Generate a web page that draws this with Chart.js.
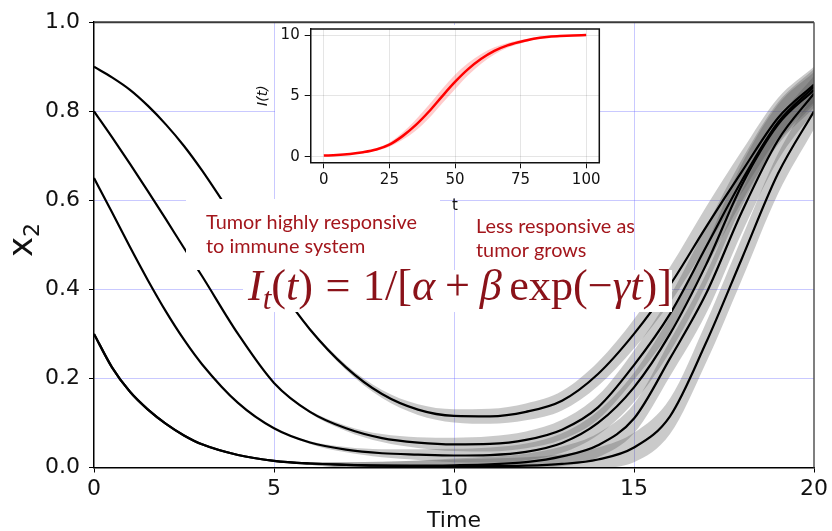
<!DOCTYPE html>
<html>
<head>
<meta charset="utf-8">
<script src="https://cdn.jsdelivr.net/npm/chart.js@4.4.0/dist/chart.umd.min.js"></script>
<style>
  body { margin: 0; background: #fff; }
  #wrap { position: relative; width: 832px; height: 531px; }
  #main { position: absolute; left: 0; top: 0; }
  #insetBox { position: absolute; left: 240px; top: 15px; width: 380px; height: 200px; }
</style>
</head>
<body>
<div id="wrap">
  <canvas id="main" width="832" height="531"></canvas>
  <div id="insetBox"><canvas id="inset" width="380" height="200"></canvas></div>
</div>
<script>
// main panel: mean trajectories of x2 over time
const time   = [0,0.5,1,1.5,2,2.5,3,4,5,6,7,8,9,10,11,12,13,14,15,16,17,18,19,20];
const curveA = [0.90,0.876,0.848,0.812,0.77,0.722,0.667,0.545,0.42,0.31,0.225,0.165,0.13,0.116,0.115,0.125,0.15,0.21,0.30,0.41,0.54,0.665,0.785,0.86];
const curveB = [0.80,0.742,0.682,0.62,0.557,0.493,0.43,0.30,0.19,0.125,0.088,0.066,0.056,0.052,0.053,0.062,0.085,0.135,0.23,0.345,0.495,0.645,0.775,0.855];
const curveC = [0.65,0.573,0.495,0.42,0.35,0.287,0.232,0.145,0.088,0.056,0.04,0.032,0.029,0.027,0.028,0.035,0.055,0.10,0.18,0.30,0.455,0.635,0.77,0.848];
const curveD = [0.30,0.225,0.17,0.13,0.098,0.072,0.052,0.028,0.015,0.009,0.006,0.004,0.003,0.003,0.003,0.004,0.008,0.018,0.045,0.115,0.28,0.47,0.66,0.80];
const curveE = [0.30,0.225,0.17,0.13,0.098,0.072,0.052,0.028,0.015,0.009,0.006,0.004,0.004,0.005,0.007,0.012,0.025,0.05,0.11,0.245,0.39,0.575,0.735,0.84];
const spread = [0,0,0,0,0,0,0,0,0,0.003,0.006,0.009,0.012,0.015,0.017,0.019,0.022,0.027,0.033,0.04,0.045,0.047,0.045,0.04];
const xTicks = [0,5,10,15,20];
const yTicks = [0,0.2,0.4,0.6,0.8,1.0];

// inset: immune response I(t)
const tInset = [0,5,10,15,20,25,30,35,40,45,50,55,60,65,70,75,80,85,90,95,100];
const iMean = [0.1,0.15,0.24,0.38,0.6,1.0,1.7,2.6,3.7,4.95,6.15,7.2,8.05,8.7,9.15,9.45,9.7,9.85,9.92,9.97,10.0];
const iSpread = [0,0,0.02,0.05,0.1,0.18,0.3,0.45,0.55,0.6,0.6,0.5,0.4,0.3,0.2,0.14,0.09,0.05,0.03,0.01,0];
const insetXTicks = [0,25,50,75,100];
const insetYTicks = [0,5,10];

const gridBlue = 'rgba(90,90,255,0.33)';
const textRed = '#a3161c';
const formulaRed = '#8a1219';

const curves = [curveA, curveB, curveC, curveD, curveE];
const pts = (xs, ys) => xs.map((x, i) => ({ x: x, y: ys[i] }));

const datasets = [];
curves.forEach(c => {
  datasets.push({ data: pts(time, c), borderColor: '#000', borderWidth: 2.2, fill: false });
});
curves.forEach(c => {
  datasets.push({ data: pts(time, c.map((v, i) => v + spread[i])), borderWidth: 0, borderColor: 'rgba(0,0,0,0)',
    backgroundColor: 'rgba(80,80,80,0.3)', fill: '+1' });
  datasets.push({ data: pts(time, c.map((v, i) => Math.max(0, v - spread[i]))), borderWidth: 0, borderColor: 'rgba(0,0,0,0)',
    fill: false });
});

function fitFont(ctx, text, family, target) {
  ctx.font = '100px ' + family;
  return 100 * target / ctx.measureText(text).width;
}

const decor = {
  id: 'decor',
  afterDatasetsDraw(chart) {
    const { ctx, chartArea: a } = chart;
    ctx.save();
    // top / right spines
    ctx.strokeStyle = '#3a3a3a';
    ctx.lineWidth = 2;
    ctx.beginPath();
    ctx.moveTo(a.left, a.top);
    ctx.lineTo(a.right, a.top);
    ctx.stroke();
    ctx.strokeStyle = '#555';
    ctx.lineWidth = 1.5;
    ctx.beginPath();
    ctx.moveTo(a.right, a.top);
    ctx.lineTo(a.right, a.bottom);
    ctx.stroke();

    // white backgrounds of pasted inset and text boxes
    ctx.fillStyle = '#fff';
    ctx.fillRect(275, 25, 325, 173);
    ctx.fillRect(186, 199, 254, 71);
    ctx.fillRect(243, 270, 429, 42);

    // annotations
    const fam = 'Lato, "Open Sans", sans-serif';
    const sz = fitFont(ctx, 'Tumor highly responsive', fam, 211);
    ctx.font = sz + 'px ' + fam;
    ctx.fillStyle = textRed;
    ctx.textAlign = 'left';
    ctx.textBaseline = 'alphabetic';
    ctx.fillText('Tumor highly responsive', 206, 229);
    ctx.fillText('to immune system', 206, 253);
    ctx.fillText('Less responsive as', 476, 233);
    ctx.fillText('tumor grows', 476, 257);

    // formula I_t(t) = 1/[α + β exp(−γt)]
    const serif = '"Liberation Serif", "DejaVu Serif", serif';
    const toks = [
      ['I', 'i'], ['t', 's'], ['(', 'r'], ['t', 'i'], [')', 'r'], [0.28], ['=', 'r'], [0.28],
      ['1/[', 'r'], ['α', 'i'], [0.22], ['+', 'r'], [0.22], ['β', 'i'], [0.17], ['exp(', 'r'],
      ['−', 'r'], ['γ', 'i'], ['t', 'i'], [')]', 'r']
    ];
    const fontFor = (st, s) => (st === 'r' ? '' : 'italic ') + (st === 's' ? s * 0.7 : s) + 'px ' + serif;
    const measure = s => {
      let w = 0;
      toks.forEach(t => {
        if (t.length === 1) { w += t[0] * s; return; }
        ctx.font = fontFor(t[1], s);
        w += ctx.measureText(t[0]).width;
      });
      return w;
    };
    const fs = 40 * 424 / measure(40);
    let x = 248;
    ctx.fillStyle = formulaRed;
    toks.forEach(t => {
      if (t.length === 1) { x += t[0] * fs; return; }
      ctx.font = fontFor(t[1], fs);
      ctx.fillText(t[0], x, t[1] === 's' ? 300 + fs * 0.2 : 300);
      x += ctx.measureText(t[0]).width;
    });

    // axis titles
    ctx.fillStyle = '#111';
    ctx.font = '22px "DejaVu Sans"';
    ctx.textAlign = 'center';
    ctx.fillText('Time', (a.left + a.right) / 2, 527);

    ctx.translate(0, 240);
    ctx.rotate(-Math.PI / 2);
    ctx.textAlign = 'left';
    ctx.font = '34px "DejaVu Sans"';
    const wx = ctx.measureText('x').width;
    ctx.font = '22px "DejaVu Sans"';
    const w2 = ctx.measureText('2').width;
    const x0 = -(wx + w2) / 2;
    ctx.font = '34px "DejaVu Sans"';
    ctx.fillText('x', x0, 32);
    ctx.font = '22px "DejaVu Sans"';
    ctx.fillText('2', x0 + wx, 39);
    ctx.restore();
  }
};

new Chart(document.getElementById('main'), {
  type: 'line',
  data: { datasets: datasets },
  options: {
    animation: false,
    responsive: false,
    devicePixelRatio: 1,
    layout: { padding: { left: 0, top: 20, right: 16, bottom: 0 } },
    plugins: { legend: { display: false }, tooltip: { enabled: false } },
    elements: { point: { radius: 0 }, line: { cubicInterpolationMode: 'monotone' } },
    scales: {
      x: {
        type: 'linear', min: 0, max: 20,
        afterBuildTicks: s => { s.ticks = xTicks.map(v => ({ value: v })); },
        afterFit: s => { s.height = 63.5; },
        grid: {
          color: c => (c.tick && (c.tick.value === 0 || c.tick.value === 20)) ? 'rgba(0,0,0,0)' : gridBlue,
          tickColor: '#000', tickLength: 5, lineWidth: 1
        },
        border: { color: '#000', width: 1.5 },
        ticks: { color: '#111', font: { family: 'DejaVu Sans', size: 22 }, padding: 4, maxRotation: 0, autoSkip: false }
      },
      y: {
        type: 'linear', min: 0, max: 1,
        afterBuildTicks: s => { s.ticks = yTicks.map(v => ({ value: v })); },
        afterFit: s => { s.width = 94; },
        grid: {
          color: c => (c.tick && (c.tick.value === 0 || c.tick.value === 1)) ? 'rgba(0,0,0,0)' : gridBlue,
          tickColor: '#000', tickLength: 5, lineWidth: 1
        },
        border: { color: '#000', width: 1.5 },
        ticks: { color: '#111', font: { family: 'DejaVu Sans', size: 22 }, padding: 9, callback: v => v.toFixed(1) }
      }
    }
  },
  plugins: [decor]
});

// inset chart
const insetDecor = {
  id: 'insetDecor',
  afterDraw(chart) {
    const { ctx, chartArea: a } = chart;
    ctx.save();
    ctx.strokeStyle = '#111';
    ctx.lineWidth = 1.5;
    ctx.beginPath();
    ctx.moveTo(a.left, a.top);
    ctx.lineTo(a.right, a.top);
    ctx.lineTo(a.right, a.bottom);
    ctx.stroke();
    ctx.fillStyle = '#111';
    ctx.font = '15px "DejaVu Sans"';
    ctx.textAlign = 'center';
    ctx.textBaseline = 'alphabetic';
    ctx.fillText('t', (a.left + a.right) / 2, 195);
    ctx.translate(27, (a.top + a.bottom) / 2);
    ctx.rotate(-Math.PI / 2);
    ctx.font = 'italic 14px "DejaVu Sans"';
    ctx.fillText('I(t)', 0, 0);
    ctx.restore();
  }
};

new Chart(document.getElementById('inset'), {
  type: 'line',
  data: {
    datasets: [
      { data: pts(tInset, iMean), borderColor: '#ff0000', borderWidth: 2.5, fill: false, cubicInterpolationMode: 'monotone' },
      { data: pts(tInset, iMean.map((v, i) => v + iSpread[i])), borderWidth: 0, borderColor: 'rgba(0,0,0,0)',
        backgroundColor: 'rgba(255,0,0,0.2)', fill: '+1', cubicInterpolationMode: 'monotone' },
      { data: pts(tInset, iMean.map((v, i) => v - iSpread[i])), borderWidth: 0, borderColor: 'rgba(0,0,0,0)',
        fill: false, cubicInterpolationMode: 'monotone' }
    ]
  },
  options: {
    animation: false,
    responsive: false,
    devicePixelRatio: 1,
    layout: { padding: { left: 0, top: 12.3, right: 20.7, bottom: 0 } },
    plugins: { legend: { display: false }, tooltip: { enabled: false } },
    elements: { point: { radius: 0 } },
    scales: {
      x: {
        type: 'linear', min: -5, max: 105,
        afterBuildTicks: s => { s.ticks = insetXTicks.map(v => ({ value: v })); },
        afterFit: s => { s.height = 52.7; },
        grid: { color: 'rgba(0,0,0,0.1)', tickColor: '#111', tickLength: 6 },
        border: { color: '#111', width: 1.5 },
        ticks: { color: '#111', font: { family: 'DejaVu Sans', size: 15 }, padding: 3, maxRotation: 0, autoSkip: false }
      },
      y: {
        type: 'linear', min: -0.45, max: 10.5,
        afterBuildTicks: s => { s.ticks = insetYTicks.map(v => ({ value: v })); },
        afterFit: s => { s.width = 70.7; },
        grid: { color: 'rgba(0,0,0,0.1)', tickColor: '#111', tickLength: 6 },
        border: { color: '#111', width: 1.5 },
        ticks: { color: '#111', font: { family: 'DejaVu Sans', size: 15 }, padding: 5 }
      }
    }
  },
  plugins: [insetDecor]
});
</script>
</body>
</html>
